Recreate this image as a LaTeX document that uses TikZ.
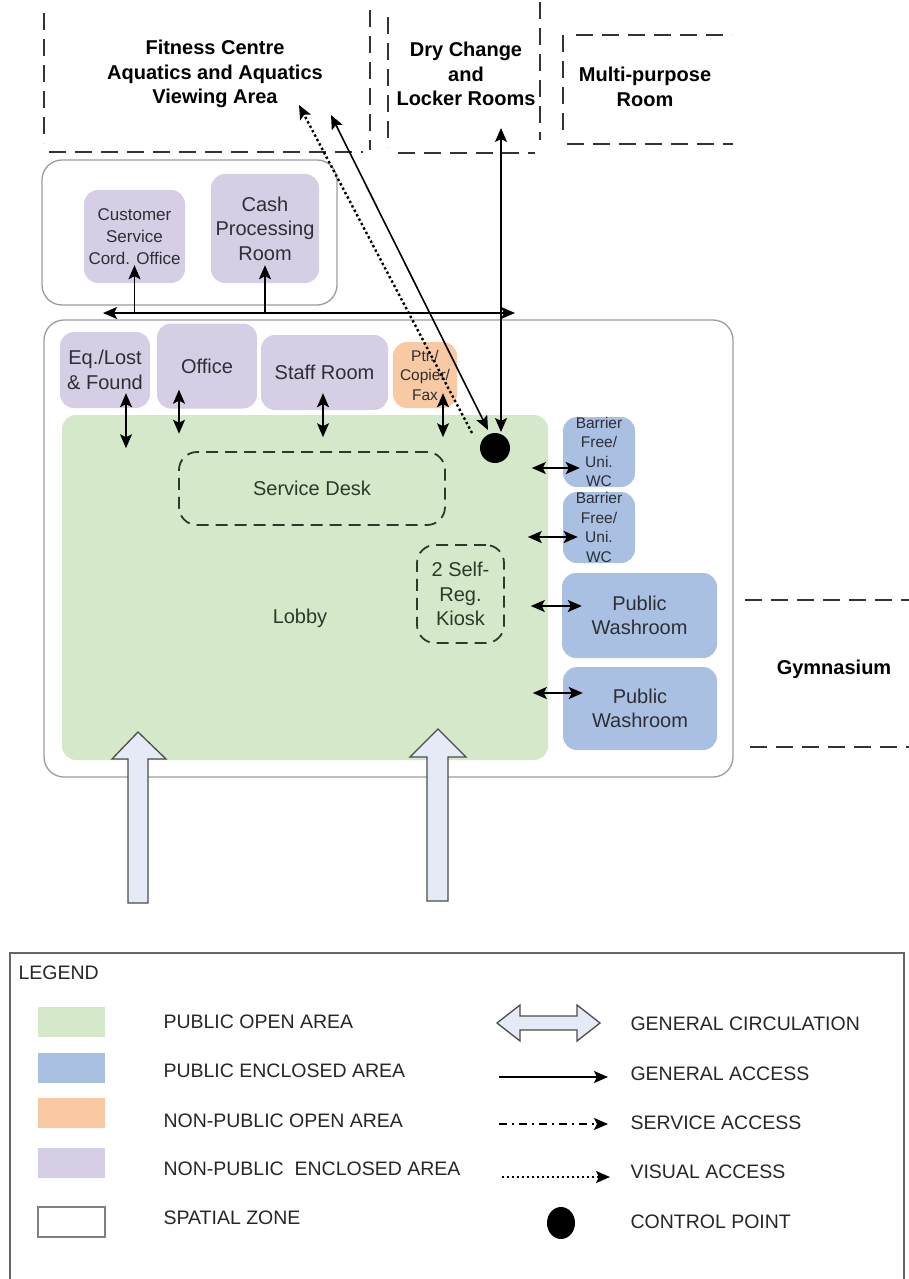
\documentclass[tikz,border=0pt]{standalone}
\usepackage{fontspec}
\setmainfont{Liberation Sans}
\usetikzlibrary{arrows.meta,shapes.geometric}

\definecolor{openclr}{HTML}{D5E8CA}
\definecolor{enclclr}{HTML}{A9C0E2}
\definecolor{npopenclr}{HTML}{F8C9A2}
\definecolor{npenclclr}{HTML}{D6CEE4}
\definecolor{zoneclr}{HTML}{9C9C9C}
\definecolor{txtclr}{HTML}{2E2E36}
\definecolor{greentxt}{HTML}{2C3A2C}
\definecolor{circclr}{HTML}{E6EAF6}

\newcommand{\bigtxt}{\fontsize{20}{24.5}\selectfont}
\newcommand{\midtxt}{\fontsize{17}{22}\selectfont}
\newcommand{\smalltxt}{\fontsize{15.5}{19.5}\selectfont}
\newcommand{\lgdtxt}{\fontsize{19.5}{23}\selectfont}

\begin{document}
\begin{tikzpicture}[x=1pt,y=-1pt,
    >={Stealth[length=14pt,width=12pt,inset=3pt]},
    every node/.style={font=\bigtxt, text=txtclr, align=center},
    room/.style={rectangle, rounded corners=14pt, inner sep=0pt},
    pubopen/.style={room, fill=openclr},
    pubencl/.style={room, fill=enclclr},
    npopen/.style={room, fill=npopenclr},
    npencl/.style={room, fill=npenclclr},
    zone/.style={draw=zoneclr, line width=1.3pt, rounded corners=20pt},
    outroom/.style={draw=black!80, line width=2.4pt, dash pattern=on 17pt off 9pt},
    outlbl/.style={font=\bigtxt\bfseries, text=black},
    deskbox/.style={room, draw=greentxt, line width=1.8pt, dash pattern=on 12pt off 7pt, rounded corners=18pt},
    acc/.style={line width=1.6pt},
    vis/.style={line width=2.4pt, dash pattern=on 2.4pt off 2.6pt},
    svc/.style={line width=1.6pt, dash pattern=on 8pt off 5pt on 2pt off 5pt},
    circ/.style={fill=circclr, draw=black!70, line width=1.3pt, line join=miter},
    ctrlpt/.style={circle, fill=black, minimum size=30pt, inner sep=0pt},
    swatch/.style={rectangle, minimum width=67pt, minimum height=30pt, inner sep=0pt},
    lgd/.style={anchor=west, font=\lgdtxt, text=black!85}
]
\useasboundingbox (0,0) rectangle (909,1279);

% Outside rooms (dashed)
\draw[outroom] (44,13) -- (44,143);
\draw[outroom] (49,152) -- (363,152);
\draw[outroom] (370,10) -- (370,150);
\node[outlbl] (fit) at (215,74) {Fitness Centre\\Aquatics and Aquatics\\Viewing Area};

\draw[outroom] (388,17) -- (388,147);
\draw[outroom] (398,153) -- (535,153);
\draw[outroom] (540,2) -- (540,140);
\node[outlbl] (dry) at (466,74) {Dry Change\\and\\Locker Rooms};

\draw[outroom] (563,35) -- (563,138);
\draw[outroom] (576,35) -- (732,35);
\draw[outroom] (567,144) -- (733,144);
\node[outlbl] (multi) at (645,87) {Multi-purpose\\Room};

\draw[outroom] (745,600) -- (909,600);
\draw[outroom] (750,747) -- (909,747);
\node[outlbl] (gym) at (834,669) {Gymnasium};

% Spatial zones
\draw[zone] (42,160) rectangle (337,305);
\draw[zone] (44,320) rectangle (733,777);

% Back office
\node[npencl, minimum width=101pt, minimum height=93pt, font=\midtxt] (cust) at (134.5,236.5) {Customer\\Service\\Cord. Office};
\node[npencl, minimum width=108pt, minimum height=109pt] (cash) at (265,228.5) {Cash\\Processing\\Room};

% Rooms along the lobby
\node[npencl, minimum width=90pt, minimum height=76pt] (eq) at (105,370) {Eq./Lost\\\& Found};
\node[npencl, minimum width=100pt, minimum height=85pt] (office) at (207,366) {Office};
\node[npencl, minimum width=127pt, minimum height=75pt] (staff) at (324.5,372.5) {Staff Room};
\node[npopen, minimum width=64pt, minimum height=66pt, font=\smalltxt] (ptr) at (425,375) {Ptr./\\Copier/\\Fax};

% Lobby
\node[pubopen, minimum width=486pt, minimum height=345pt] (lobby) at (305,587.5) {};
\node[text=greentxt] (lobbytxt) at (300,618) {Lobby};
\node[deskbox, minimum width=266pt, minimum height=73pt, text=greentxt] (desk) at (312,488.5) {Service Desk};
\node[deskbox, minimum width=87pt, minimum height=98pt, text=greentxt] (kiosk) at (460.5,594) {2 Self-\\Reg.\\Kiosk};
\node[ctrlpt] (ctrl) at (495,448) {};

% Washrooms
\node[pubencl, minimum width=72pt, minimum height=70pt, font=\smalltxt] (wc1) at (599,452) {Barrier\\Free/\\Uni.\\WC};
\node[pubencl, minimum width=72pt, minimum height=71pt, font=\smalltxt] (wc2) at (599,527.5) {Barrier\\Free/\\Uni.\\WC};
\node[pubencl, minimum width=155pt, minimum height=85pt] (pw1) at (639.5,615.5) {Public\\Washroom};
\node[pubencl, minimum width=154pt, minimum height=83pt] (pw2) at (640,708.5) {Public\\Washroom};

% General access
\coordinate (hl) at (103,313);
\coordinate (hr) at (515,313);
\draw[acc,<->] (hl) -- (hr);
\draw[acc,->] (cust.south |- hl) -- ([yshift=18pt]cust.south);
\draw[acc,->] (cash.south |- hl) -- ([yshift=18pt]cash.south);

\draw[acc,<->] ([xshift=21pt,yshift=15pt]eq.south) -- ([xshift=21pt,yshift=-40pt]eq.south);
\draw[acc,<->] ([xshift=-28pt,yshift=19pt]office.south) -- ([xshift=-28pt,yshift=-25pt]office.south);
\draw[acc,<->] ([xshift=-1.5pt,yshift=17pt]staff.south) -- ([xshift=-1.5pt,yshift=-27pt]staff.south);
\draw[acc,<->] ([xshift=18pt,yshift=15pt]ptr.south) -- ([xshift=18pt,yshift=-29pt]ptr.south);

\draw[acc,<->] ([xshift=-31pt,yshift=-16pt]wc1.west) -- ([xshift=17pt,yshift=-16pt]wc1.west);
\draw[acc,<->] ([xshift=-35pt,yshift=-9.5pt]wc2.west) -- ([xshift=15pt,yshift=-9.5pt]wc2.west);
\draw[acc,<->] ([xshift=-31pt,yshift=9.5pt]pw1.west) -- ([xshift=20pt,yshift=9.5pt]pw1.west);
\draw[acc,<->] ([xshift=-30pt,yshift=15.5pt]pw2.west) -- ([xshift=20pt,yshift=15.5pt]pw2.west);

% Links to the outside rooms
\coordinate (fitv) at (299,105);
\coordinate (fitg) at (331,115);
\coordinate (dryg) at (501,128);
\draw[vis,->] ([xshift=-23pt,yshift=15pt]ctrl.center) -- (fitv);
\draw[acc,<->] (fitg) -- ([xshift=-7pt,yshift=18pt]ctrl.center);
\draw[acc,<->] (dryg) -- ([xshift=6pt,yshift=16pt]ctrl.center);

% General circulation
\draw[circ] (128,903) -- (128,759) -- (112,759) -- (138,732) -- (166,759) -- (148,759) -- (148,903) -- cycle;
\draw[circ] (427,901) -- (427,757) -- (410,757) -- (438,729) -- (466,757) -- (448,757) -- (448,901) -- cycle;

% Legend
\draw[draw=black!60, line width=1.2pt] (10,1285) -- (10,953) -- (904,953) -- (904,1285);
\node[lgd] (lgdtitle) at (15,973) {LEGEND};
\foreach \c/\ys/\yt/\t [count=\i] in {openclr/1021.5/1022/PUBLIC OPEN AREA,
    enclclr/1067.5/1071/PUBLIC ENCLOSED AREA,
    npopenclr/1112.5/1121/NON-PUBLIC OPEN AREA,
    npenclclr/1163/1169/NON-PUBLIC\ \ ENCLOSED AREA} {
  \node[swatch, fill=\c] (sw\i) at (71.5,\ys) {};
  \node[lgd] (sl\i) at (160,\yt) {\t};
}
\node[swatch, fill=white, draw=black!50, line width=1.2pt] (sw5) at (71.5,1222) {};
\node[lgd] (sl5) at (160,1218) {SPATIAL ZONE};

\draw[circ] (497,1023) -- (520,1005) -- (520,1016) -- (577,1016) -- (577,1005) -- (600,1023)
  -- (577,1041) -- (577,1030) -- (520,1030) -- (520,1041) -- cycle;
\coordinate (ga1) at (499,1077);
\coordinate (ga2) at (608,1077);
\coordinate (sa1) at (499,1124);
\coordinate (sa2) at (608,1124);
\coordinate (va1) at (502,1177);
\coordinate (va2) at (610,1177);
\draw[acc,->] (ga1) -- (ga2);
\draw[svc,->] (sa1) -- (sa2);
\draw[vis,line width=2pt,->] (va1) -- (va2);
\node[ellipse, fill=black, minimum width=28pt, minimum height=32pt, inner sep=0pt] (lgdctrl) at (561,1223) {};

\node[lgd] (ll1) at (627,1024) {GENERAL CIRCULATION};
\node[lgd] (ll2) at (627,1074) {GENERAL ACCESS};
\node[lgd] (ll3) at (627,1123) {SERVICE ACCESS};
\node[lgd] (ll4) at (627,1172) {VISUAL ACCESS};
\node[lgd] (ll5) at (627,1222) {CONTROL POINT};

\end{tikzpicture}
\end{document}
